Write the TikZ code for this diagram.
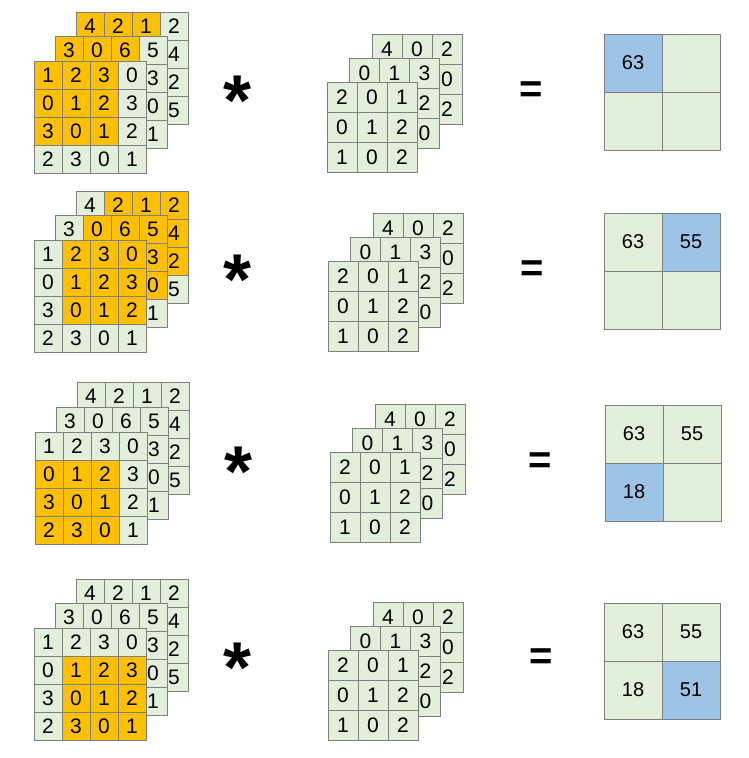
\documentclass[tikz,border=0pt]{standalone}
\usepackage{fontspec}
\setmainfont{Liberation Sans}

\definecolor{cellgreen}{HTML}{E2EFDA}
\definecolor{hotorange}{HTML}{FFC000}
\definecolor{outblue}{HTML}{9DC3E6}
\definecolor{gridgray}{HTML}{7F7F7F}

% one layer of cells: name, left, top, cell size, rows of text/style
\newcommand{\layer}[5]{%
  \foreach \row [count=\i] in {#5} {
    \foreach \txt/\sty [count=\j] in \row {
      \node[\sty, minimum size=#4] (#1-\i-\j) at ({#2+(\j-0.5)*#4}, {#3+(\i-0.5)*#4}) {\txt};
    }
  }%
}

% the 3x3x3 kernel, same in every row: name, left and top of the front layer
\newcommand{\kernel}[3]{%
  \layer{#1c}{#2+45}{#3-48}{30}{{4/cell,0/cell,2/cell},{/cell,/cell,0/cell},{/cell,/cell,2/cell}}
  \layer{#1b}{#2+22.5}{#3-24}{30}{{0/cell,1/cell,3/cell},{/cell,/cell,2/cell},{/cell,/cell,0/cell}}
  \layer{#1a}{#2}{#3}{30}{{2/cell,0/cell,1/cell},{0/cell,1/cell,2/cell},{1/cell,0/cell,2/cell}}%
}

\begin{document}
\begin{tikzpicture}[x=1pt, y=-1pt,
  cell/.style={draw=gridgray, line width=0.8pt, fill=cellgreen, inner sep=0pt, font=\fontsize{21}{25}\selectfont},
  hot/.style={cell, fill=hotorange},
  ocell/.style={cell, font=\fontsize{20}{24}\selectfont},
  ohot/.style={ocell, fill=outblue},
  op/.style={inner sep=0pt, font=\fontsize{40}{48}\selectfont\bfseries},
  star/.style={inner sep=0pt, font=\fontsize{72}{80}\selectfont\bfseries}]

  \useasboundingbox (0,0) rectangle (749,758);

  % ROW 1: top-left window
  \begin{scope}[shift={(0,0)}]
    % input, back to front
    \layer{in1c}{76}{12}{28}{{4/hot,2/hot,1/hot,2/cell},{/hot,/hot,/hot,4/cell},{/hot,/hot,/hot,2/cell},{/cell,/cell,/cell,5/cell}}
    \layer{in1b}{55}{36.5}{28}{{3/hot,0/hot,6/hot,5/cell},{/hot,/hot,/hot,3/cell},{/hot,/hot,/hot,0/cell},{/cell,/cell,/cell,1/cell}}
    \layer{in1a}{34}{61}{28}{{1/hot,2/hot,3/hot,0/cell},{0/hot,1/hot,2/hot,3/cell},{3/hot,0/hot,1/hot,2/cell},{2/cell,3/cell,0/cell,1/cell}}
    \node[star] (star1) at (238,101) {*};
    \kernel{k1}{327}{82}
    \node[op] (eq1) at (531,92) {=};
    \layer{res1}{604}{34}{58}{{63/ohot,/ocell},{/ocell,/ocell}}
  \end{scope}

  % ROW 2: top-right window
  \begin{scope}[shift={(0,179)}]
    \layer{in2c}{76}{12}{28}{{4/cell,2/hot,1/hot,2/hot},{/cell,/hot,/hot,4/hot},{/cell,/hot,/hot,2/hot},{/cell,/cell,/cell,5/cell}}
    \layer{in2b}{55}{36.5}{28}{{3/cell,0/hot,6/hot,5/hot},{/cell,/hot,/hot,3/hot},{/cell,/hot,/hot,0/hot},{/cell,/cell,/cell,1/cell}}
    \layer{in2a}{34}{61}{28}{{1/cell,2/hot,3/hot,0/hot},{0/cell,1/hot,2/hot,3/hot},{3/cell,0/hot,1/hot,2/hot},{2/cell,3/cell,0/cell,1/cell}}
    \node[star] (star2) at (238,101) {*};
    \kernel{k2}{328}{82}
    \node[op] (eq2) at (532,92) {=};
    \layer{res2}{604}{34}{58}{{63/ocell,55/ohot},{/ocell,/ocell}}
  \end{scope}

  % ROW 3: bottom-left window
  \begin{scope}[shift={(0,371)}]
    \layer{in3c}{77}{11}{28}{{4/cell,2/cell,1/cell,2/cell},{/cell,/cell,/cell,4/cell},{/cell,/cell,/cell,2/cell},{/cell,/cell,/cell,5/cell}}
    \layer{in3b}{56}{36}{28}{{3/cell,0/cell,6/cell,5/cell},{/cell,/cell,/cell,3/cell},{/cell,/cell,/cell,0/cell},{/cell,/cell,/cell,1/cell}}
    \layer{in3a}{35}{61}{28}{{1/cell,2/cell,3/cell,0/cell},{0/hot,1/hot,2/hot,3/cell},{3/hot,0/hot,1/hot,2/cell},{2/hot,3/hot,0/hot,1/cell}}
    \node[star] (star3) at (239,101) {*};
    \kernel{k3}{330}{81}
    \node[op] (eq3) at (540,92) {=};
    \layer{res3}{605}{34}{58}{{63/ocell,55/ocell},{18/ohot,/ocell}}
  \end{scope}

  % ROW 4: bottom-right window
  \begin{scope}[shift={(0,567)}]
    \layer{in4c}{76}{12}{28}{{4/cell,2/cell,1/cell,2/cell},{/cell,/cell,/cell,4/cell},{/cell,/cell,/cell,2/cell},{/cell,/cell,/cell,5/cell}}
    \layer{in4b}{55}{36.5}{28}{{3/cell,0/cell,6/cell,5/cell},{/cell,/cell,/cell,3/cell},{/cell,/cell,/cell,0/cell},{/cell,/cell,/cell,1/cell}}
    \layer{in4a}{34}{61}{28}{{1/cell,2/cell,3/cell,0/cell},{0/cell,1/hot,2/hot,3/hot},{3/cell,0/hot,1/hot,2/hot},{2/cell,3/hot,0/hot,1/hot}}
    \node[star] (star4) at (238,101) {*};
    \kernel{k4}{328}{83}
    \node[op] (eq4) at (541,92) {=};
    \layer{res4}{604}{36}{58}{{63/ocell,55/ocell},{18/ocell,51/ohot}}
  \end{scope}

\end{tikzpicture}
\end{document}
